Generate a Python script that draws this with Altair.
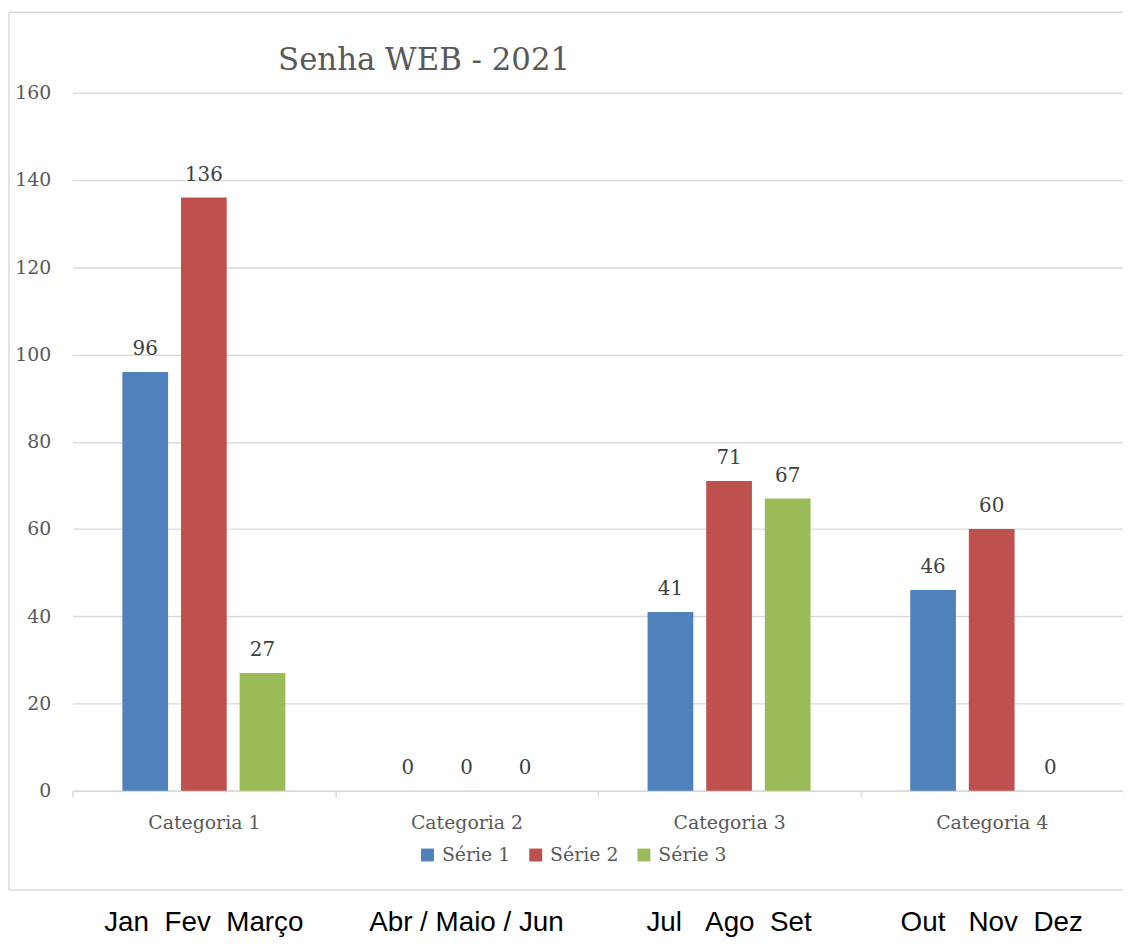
import altair as alt
import pandas as pd

categories = ["Categoria 1", "Categoria 2", "Categoria 3", "Categoria 4"]
series = ["Série 1", "Série 2", "Série 3"]
serie1 = [96, 0, 41, 46]
serie2 = [136, 0, 71, 60]
serie3 = [27, 0, 67, 0]
months = ["Jan\u00a0\u00a0Fev\u00a0\u00a0Março", "Abr / Maio / Jun",
          "Jul\u00a0\u00a0\u00a0Ago\u00a0\u00a0Set", "Out\u00a0\u00a0\u00a0Nov\u00a0\u00a0Dez"]
title_text = ["Senha WEB - 2021"]
colors = ["#4F81BD", "#C0504D", "#9BBB59"]
y_ticks = [0, 20, 40, 60, 80, 100, 120, 140, 160]

rows = []
for s, vals in zip(series, [serie1, serie2, serie3]):
    for c, v in zip(categories, vals):
        rows.append({"cat": c, "serie": s, "value": v})
df = pd.DataFrame(rows)
mdf = pd.DataFrame({"cat": categories, "months": months})

W = 1058
H = 703
SERIF = "DejaVu Serif"
GREY = "#595959"
LINE = "#d9d9d9"

x_enc = alt.X("cat:N", sort=categories, title=None,
              scale=alt.Scale(paddingInner=0, paddingOuter=0),
              axis=alt.Axis(labelAngle=0, labelFont=SERIF, labelFontSize=19, labelColor=GREY,
                            labelPadding=17, tickSize=6, tickColor=LINE, tickWidth=1.5,
                            domainColor=LINE, domainWidth=1.5, tickBand="extent", grid=False))
y_enc = alt.Y("value:Q", title=None,
              scale=alt.Scale(domain=[0, 160], nice=False),
              axis=alt.Axis(values=y_ticks, labelFont=SERIF, labelFontSize=19, labelColor=GREY,
                            labelPadding=22, ticks=False, domain=False, gridColor=LINE,
                            gridWidth=1.3))
xoff = alt.XOffset("serie:N", sort=series,
                   scale=alt.Scale(paddingInner=0.22, paddingOuter=0.85))

bars = alt.Chart(df).mark_bar().encode(
    x=x_enc, y=y_enc, xOffset=xoff,
    color=alt.Color("serie:N", sort=series, title=None,
                    scale=alt.Scale(domain=series, range=colors),
                    legend=alt.Legend(orient="none", legendX=348, legendY=758,
                                      direction="horizontal", symbolType="square",
                                      symbolSize=169, symbolStrokeWidth=0,
                                      labelFont=SERIF, labelFontSize=19, labelColor=GREY,
                                      labelOffset=5, columnPadding=16)),
)

labels = alt.Chart(df).mark_text(font=SERIF, fontSize=20, color="#404040",
                                 baseline="alphabetic", dy=-17).encode(
    x=alt.X("cat:N", sort=categories), y="value:Q", xOffset=xoff, text="value:Q")

month_text = alt.Chart(mdf).mark_text(font="Liberation Sans", fontSize=28, color="#000000",
                                      baseline="alphabetic").encode(
    x=alt.X("cat:N", sort=categories), y=alt.value(844), text="months:N")

title_mark = alt.Chart(pd.DataFrame({"t": title_text})).mark_text(
    font=SERIF, fontSize=31, color=GREY, align="left", baseline="alphabetic").encode(
    x=alt.value(207), y=alt.value(-23), text="t:N")

one = alt.Data(values=[{"k": 1}])
frame_top = alt.Chart(one).mark_rule(color=LINE, strokeWidth=1.5).encode(
    x=alt.value(-64), x2=alt.value(W), y=alt.value(-81))
frame_bottom = alt.Chart(one).mark_rule(color=LINE, strokeWidth=1.5).encode(
    x=alt.value(-64), x2=alt.value(W), y=alt.value(803))
frame_left = alt.Chart(one).mark_rule(color=LINE, strokeWidth=1.5).encode(
    x=alt.value(-64), y=alt.value(-81), y2=alt.value(803))

chart = alt.layer(frame_top, frame_bottom, frame_left, bars, labels, month_text, title_mark).properties(
    width=W, height=H,
    autosize=alt.AutoSizeParams(type="none"),
    padding={"left": 65, "top": 82, "right": 0, "bottom": 150},
    background="white",
).configure_view(strokeWidth=0).configure_legend(labelFont=SERIF)

chart.save("out.html", embed_options={"renderer": "svg", "actions": False})
